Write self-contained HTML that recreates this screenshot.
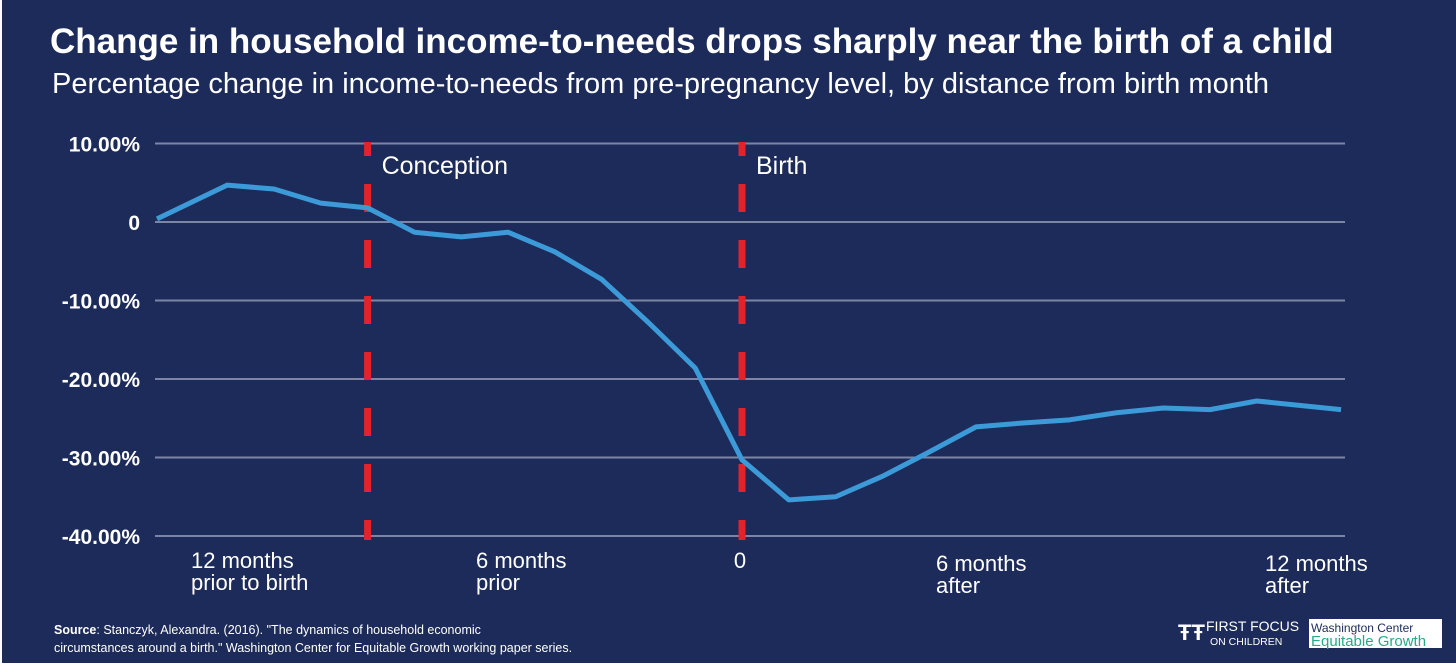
<!DOCTYPE html>
<html><head><meta charset="utf-8"><style>
html,body{margin:0;padding:0;background:#fff;width:1456px;height:671px;overflow:hidden}
svg{display:block}
text{font-family:"Liberation Sans",sans-serif}
</style></head><body>
<svg id="chart" width="1456" height="671">
<rect x="2" y="0" width="1454" height="663" fill="#1c2b59"/>
<text x="50" y="53" fill="#fff" font-size="35" font-weight="bold">Change in household income-to-needs drops sharply near the birth of a child</text>
<text x="52" y="93" fill="#fff" font-size="29">Percentage change in income-to-needs from pre-pregnancy level, by distance from birth month</text>
<g id="grid"></g><g id="ylabels"></g><g id="markers"></g><g id="series"></g><g id="xlabels"></g>
<text x="54" y="634" fill="#fff" font-size="12.5"><tspan font-weight="bold">Source</tspan>: Stanczyk, Alexandra. (2016). "The dynamics of household economic</text>
<text x="54" y="652" fill="#fff" font-size="12.5">circumstances around a birth." Washington Center for Equitable Growth working paper series.</text>
<g>
<text x="1178" y="640" fill="#fff" font-size="22" font-weight="bold" font-family="Liberation Serif,serif">ŦŦ</text>
<text x="1206" y="631" fill="#fff" font-size="14" font-family="Liberation Serif,serif">FIRST FOCUS</text>
<text x="1210" y="645" fill="#fff" font-size="10.5" font-family="Liberation Serif,serif">ON CHILDREN</text>
</g>
<g>
<rect x="1309" y="619" width="133" height="29" fill="#fff"/>
<text x="1311" y="632" fill="#1c2b59" font-size="12" font-family="Liberation Serif,serif">Washington Center</text>
<text x="1311" y="646" fill="#2aa88a" font-size="15" font-family="Liberation Serif,serif">Equitable Growth</text>
</g>
</svg>
<script>
const months=[-12.5,-11,-10,-9,-8,-7,-6,-5,-4,-3,-2,-1,0,1,2,3,4,5,6,7,8,9,10,11,12.8];
const values=[0.4,4.7,4.2,2.4,1.8,-1.3,-1.9,-1.3,-3.8,-7.3,-12.8,-18.6,-30.3,-35.4,-35.0,-32.4,-29.3,-26.1,-25.6,-25.2,-24.3,-23.7,-23.9,-22.8,-23.9];
const yTicks=[10,0,-10,-20,-30,-40];
const yTickLabels=["10.00%","0","-10.00%","-20.00%","-30.00%","-40.00%"];
const markerMonths=[-8,0];
const markerLabels=["Conception","Birth"];
const xLabelMonths=[-12,-6,0,6,12];
const xLabelLines=[["12 months","prior to birth"],["6 months","prior"],["0"],["6 months","after"],["12 months","after"]];
const xLabelOffsets=[[0,0],[0,0],[0,0],[0,3],[0,3]];
const NS="http://www.w3.org/2000/svg";
const xs=m=>742+m*46.8;
const ys=v=>222-v*7.85;
function mk(tag,attrs,parent){const e=document.createElementNS(NS,tag);for(const k in attrs)e.setAttribute(k,attrs[k]);document.getElementById(parent).appendChild(e);return e;}
yTicks.forEach((t,i)=>{
 const l=mk('line',{x1:155,x2:1345,y1:ys(t),y2:ys(t),stroke:'#7d85a6','stroke-width':2},'grid');
 
 
 const tx=mk('text',{x:140,y:ys(t)+8,fill:'#fff','font-size':21,'font-weight':'bold','text-anchor':'end'},'ylabels');
 tx.textContent=yTickLabels[i];
 
 
});
markerMonths.forEach((m,i)=>{
 const l=mk('line',{x1:xs(m),x2:xs(m),y1:142,y2:540,stroke:'#e1232b','stroke-width':7,'stroke-dasharray':'28 28','stroke-dashoffset':'14'},'markers');
 
 
 const t=mk('text',{x:xs(m)+14,y:174,fill:'#fff','font-size':25},'markers');
 t.textContent=markerLabels[i];
 
 
});
const p=mk('polyline',{points:months.map((m,i)=>xs(m)+','+ys(values[i])).join(' '),fill:'none',stroke:'#3c9ad8','stroke-width':5,'stroke-linejoin':'round'},'series');


xLabelMonths.forEach((m,i)=>{
 const lines=xLabelLines[i];
 const cx=m===-12?252:m===-6?522:m===0?740:m===6?984:1315;
 const t=mk('text',{x:cx,y:568+xLabelOffsets[i][1],fill:'#fff','font-size':22,'text-anchor':'middle'},'xlabels');
 lines.forEach((s,j)=>{const ts=document.createElementNS(NS,'tspan');ts.setAttribute('x',lines.length>1?cx-(cx>1200?50:(cx>900?48:(cx>400?46:61))):cx);ts.setAttribute('dy',j?22:0);if(lines.length>1)t.setAttribute('text-anchor','start');ts.textContent=s;t.appendChild(ts);});
 
 
});
</script>
</body></html>
